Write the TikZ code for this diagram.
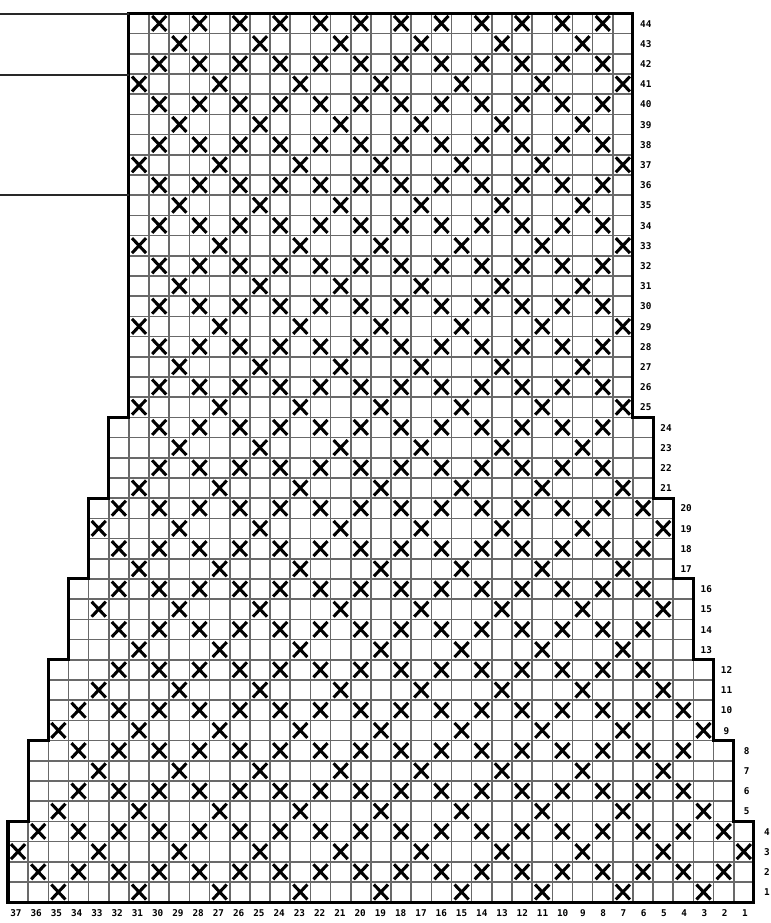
\documentclass[tikz,border=0pt]{standalone}
\usepackage{fontspec}
\newfontfamily\labfont{DejaVu Sans Mono}
\definecolor{gridgray}{RGB}{105,105,105}
\definecolor{sidegray}{RGB}{40,40,40}
\begin{document}
\begin{tikzpicture}[x=15.12pt,y=-15.15pt,
  gridline/.style={draw=gridgray,line width=1.2pt},
  outline/.style={draw=black,line width=2.3pt,line join=miter},
  xmark/.style={draw=black,line width=2.3pt},
  sideline/.style={draw=sidegray,line width=1pt},
  rowlab/.style={font=\labfont\bfseries\fontsize{7}{8}\selectfont,inner sep=0pt,text=black,anchor=base},
  collab/.style={rowlab}]
\useasboundingbox (-0.3968,-0.6584) rectangle (37.798,45.035);
% grid bands: y from ja to jb, x from ia to ib
\foreach \ja/\jb/\ia/\ib in {0/20/6/31, 20/24/5/32, 24/28/4/33, 28/32/3/34, 32/36/2/35, 36/40/1/36, 40/44/0/37} {
  \foreach \yy in {\ja,...,\jb} {\draw[gridline] (\ia,\yy) -- (\ib,\yy);}
  \foreach \xx in {\ia,...,\ib} {\draw[gridline] (\xx,\ja) -- (\xx,\jb);}
}
% X marks: row / first column / step / count-1
\foreach \r/\a/\d/\n in {
  1/3/4/8, 2/2/2/17, 3/1/4/9, 4/2/2/17,
  5/3/4/8, 6/4/2/15, 7/5/4/7, 8/4/2/15,
  9/3/4/8, 10/4/2/15, 11/5/4/7, 12/6/2/13,
  13/7/4/6, 14/6/2/13, 15/5/4/7, 16/6/2/13,
  17/7/4/6, 18/6/2/13, 19/5/4/7, 20/6/2/13,
  21/7/4/6, 22/8/2/11, 23/9/4/5, 24/8/2/11,
  25/7/4/6, 26/8/2/11, 27/9/4/5, 28/8/2/11,
  29/7/4/6, 30/8/2/11, 31/9/4/5, 32/8/2/11,
  33/7/4/6, 34/8/2/11, 35/9/4/5, 36/8/2/11,
  37/7/4/6, 38/8/2/11, 39/9/4/5, 40/8/2/11,
  41/7/4/6, 42/8/2/11, 43/9/4/5, 44/8/2/11} {
  \foreach \k in {0,...,\n} {
    \pgfmathsetmacro\cx{37-(\a+\k*\d)+0.5}
    \pgfmathsetmacro\cy{44-\r+0.5}
    \draw[xmark] (\cx-0.35,\cy-0.37) -- (\cx+0.35,\cy+0.37)
                 (\cx-0.35,\cy+0.37) -- (\cx+0.35,\cy-0.37);
  }
}
% outline
\draw[outline] (6,0) -- (31,0) -- (31,20) -- (32,20) -- (32,24) -- (33,24) -- (33,28) -- (34,28) -- (34,32) -- (35,32) -- (35,36) -- (36,36) -- (36,40) -- (37,40) -- (37,44) -- (0,44) -- (0,40) -- (1,40) -- (1,36) -- (2,36) -- (2,32) -- (3,32) -- (3,28) -- (4,28) -- (4,24) -- (5,24) -- (5,20) -- (6,20) -- cycle;
% side lines at top left
\coordinate (s1a) at (-0.3968,0.03);  \coordinate (s1b) at (6,0.03);
\coordinate (s2a) at (-0.3968,3.05);  \coordinate (s2b) at (6,3.05);
\coordinate (s3a) at (-0.3968,9);     \coordinate (s3b) at (6,9);
\draw[sideline] (s1a) -- (s1b);
\draw[sideline] (s2a) -- (s2b);
\draw[sideline] (s3a) -- (s3b);
% row labels
\foreach \r in {1,...,44} {
  \pgfmathtruncatemacro\kk{min(6,floor((\r-1)/4))}
  \pgfmathsetmacro\lx{37-\kk+0.64}
  \pgfmathsetmacro\ly{44-\r+0.68}
  \node[rowlab] (rl\r) at (\lx,\ly) {\r};
}
% column labels
\foreach \c in {1,...,37} {
  \pgfmathsetmacro\lx{(16+(37-\c)*20.25-8)/20.16}
  \node[collab] (cl\c) at (\lx,44.69) {\c};
}
\end{tikzpicture}
\end{document}
